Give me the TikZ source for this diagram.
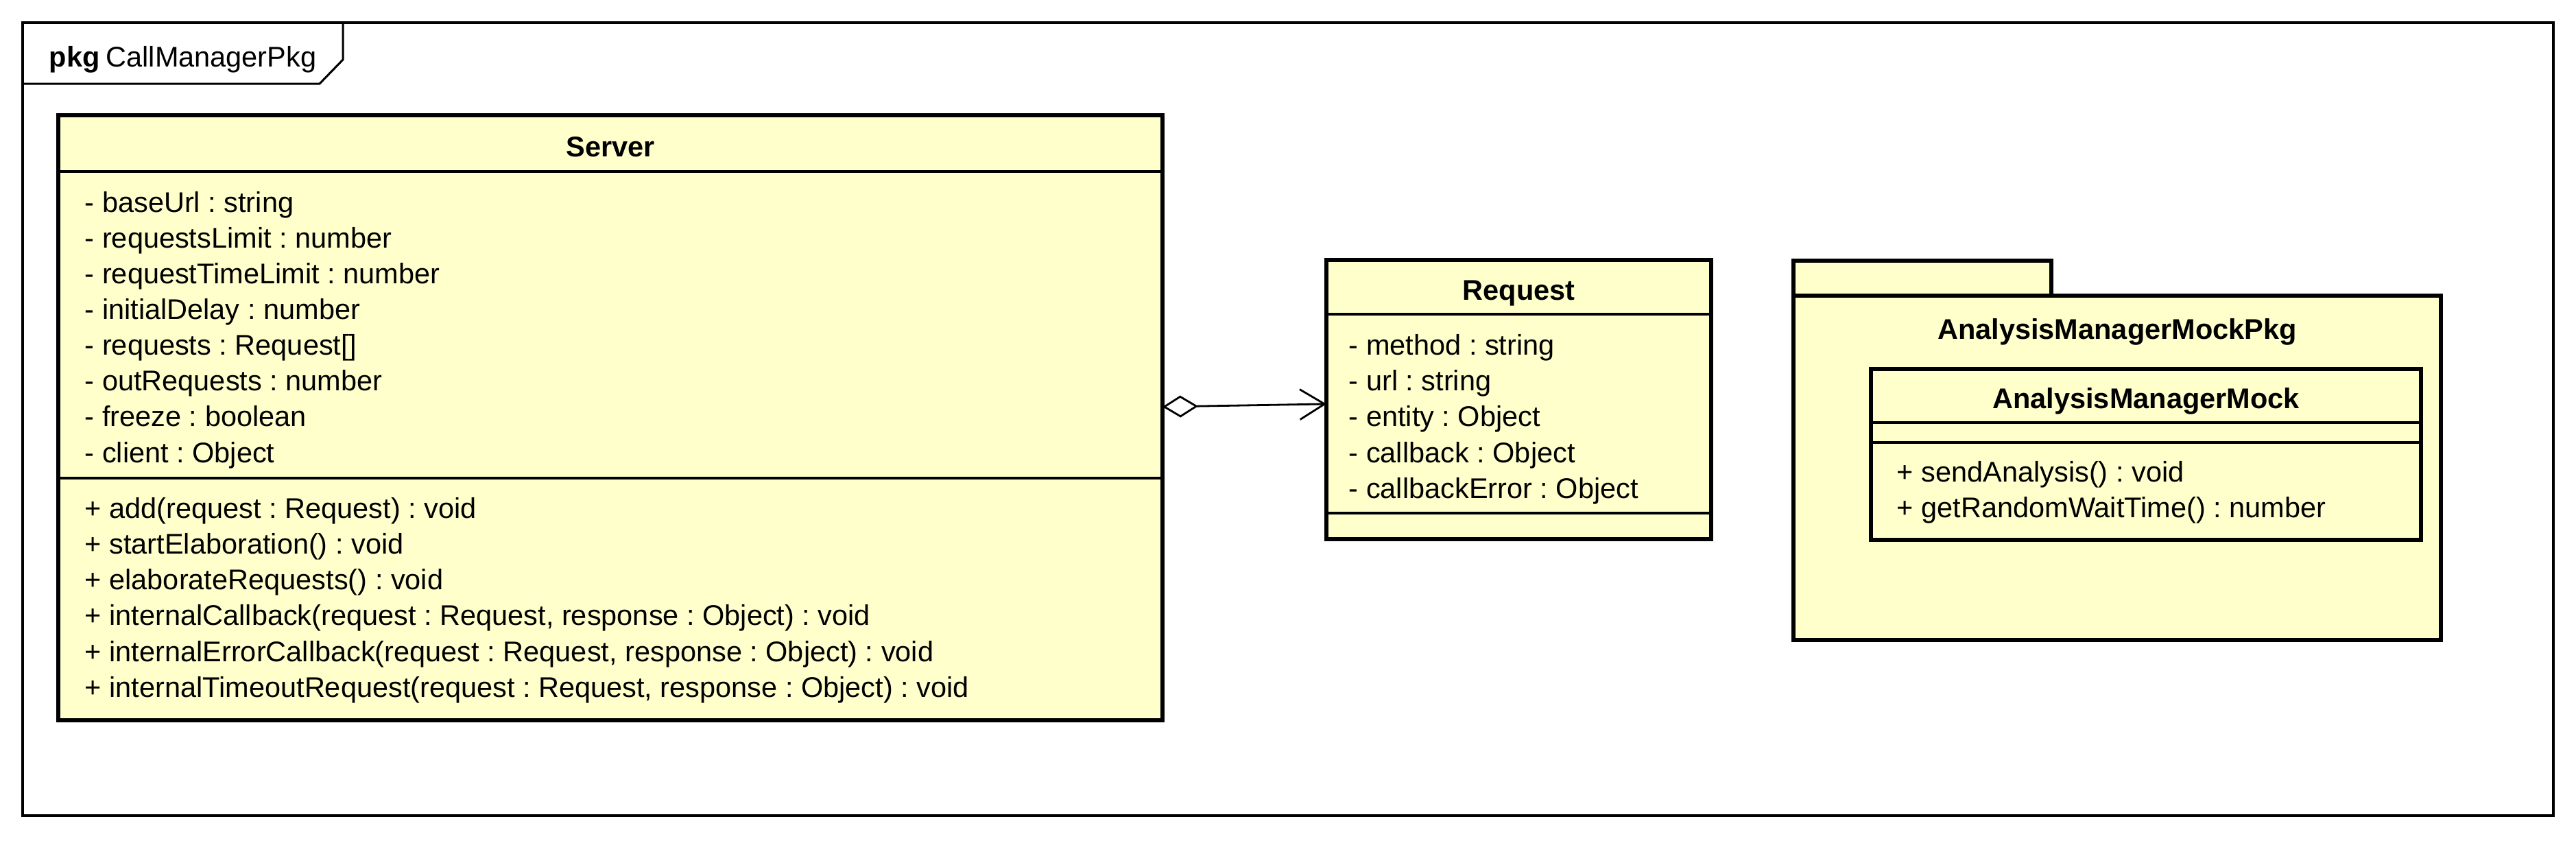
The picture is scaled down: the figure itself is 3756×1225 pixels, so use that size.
\documentclass[tikz,border=0pt]{standalone}
\usepackage{fontspec}
\setmainfont{Liberation Sans}
\usetikzlibrary{arrows.meta}
\definecolor{umlfill}{HTML}{FFFFCC}
\frenchspacing
\begin{document}
\begin{tikzpicture}[x=0.25pt,y=-0.25pt,
  lbl/.style={anchor=base west, inner sep=0pt, font=\fontsize{10.375}{12}\selectfont\frenchspacing},
  ttl/.style={anchor=base, inner sep=0pt, font=\fontsize{10.375}{12}\selectfont\bfseries},
  classbox/.style={draw, line width=1.6pt, fill=umlfill, anchor=north west, inner sep=0pt, outer sep=0pt},
  sepline/.style={line width=0.9pt},
  framebox/.style={draw, line width=0.9pt, anchor=north west, inner sep=0pt, outer sep=0pt},
  assoc/.style={line width=0.7pt, {Diamond[fill=white, length=13pt, width=8pt]}-{Straight Barb[length=9pt, width=11pt]}}
]
\useasboundingbox (0,0) rectangle (3756,1225);

% outer package frame
\node[framebox, minimum width=922.5pt, minimum height=289pt] (frame) at (33,33) {};
\draw[line width=0.75pt] (500,35) -- (500,87) -- (466,122) -- (33,122);
\node[lbl] (frametitle) at (71,97) {\textbf{pkg}\hspace{2.25pt}CallManagerPkg};

% Server class
\node[classbox, minimum width=402.5pt, minimum height=220.5pt] (server) at (85,168) {};
\draw[sepline] (85,250) -- (1695,250);
\draw[sepline] (85,697) -- (1695,697);
\node[ttl] (servertitle) at (890,228) {Server};
\foreach \t [count=\i] in {- baseUrl : string, - requestsLimit : number, - requestTimeLimit : number, - initialDelay : number, - requests : Request[], - outRequests : number, - freeze : boolean, - client : Object}
  \node[lbl] (sa\i) at (123,{309+52.15*(\i-1)}) {\t};
\foreach \t [count=\i] in {+ add(request : Request) : void, + startElaboration() : void, + elaborateRequests() : void, {+ internalCallback(request : Request, response : Object) : void}, {+ internalErrorCallback(request : Request, response : Object) : void}, {+ internalTimeoutRequest(request : Request, response : Object) : void}}
  \node[lbl] (sm\i) at (123,{755+52.3*(\i-1)}) {\t};

% Request class
\node[classbox, minimum width=140.25pt, minimum height=101.75pt] (request) at (1934,379) {};
\draw[sepline] (1934,458) -- (2495,458);
\draw[sepline] (1934,748) -- (2495,748);
\node[ttl] (requesttitle) at (2214.5,437) {Request};
\foreach \t [count=\i] in {- method : string, - url : string, - entity : Object, - callback : Object, - callbackError : Object}
  \node[lbl] (ra\i) at (1966,{517+52.4*(\i-1)}) {\t};

% association
\draw[assoc] ([yshift=4pt]server.east) -- ([yshift=-1.6pt]request.west);

% AnalysisManagerMockPkg package
\node[classbox, minimum width=94pt, minimum height=12.75pt] (pkgtab) at (2615,380) {};
\node[classbox, minimum width=236pt, minimum height=125.5pt] (pkgbody) at (2615,431) {};
\node[ttl] (pkgname) at (3087,494) {AnalysisManagerMockPkg};

% AnalysisManagerMock class
\node[classbox, minimum width=200.5pt, minimum height=62.25pt] (amm) at (2728,538) {};
\draw[sepline] (2728,616) -- (3530,616);
\draw[sepline] (2728,645) -- (3530,645);
\node[ttl] (ammtitle) at (3129,595) {AnalysisManagerMock};
\node[lbl] (amm1) at (2765,702) {+ sendAnalysis() : void};
\node[lbl] (amm2) at (2765,754) {+ getRandomWaitTime() : number};
\end{tikzpicture}
\end{document}
